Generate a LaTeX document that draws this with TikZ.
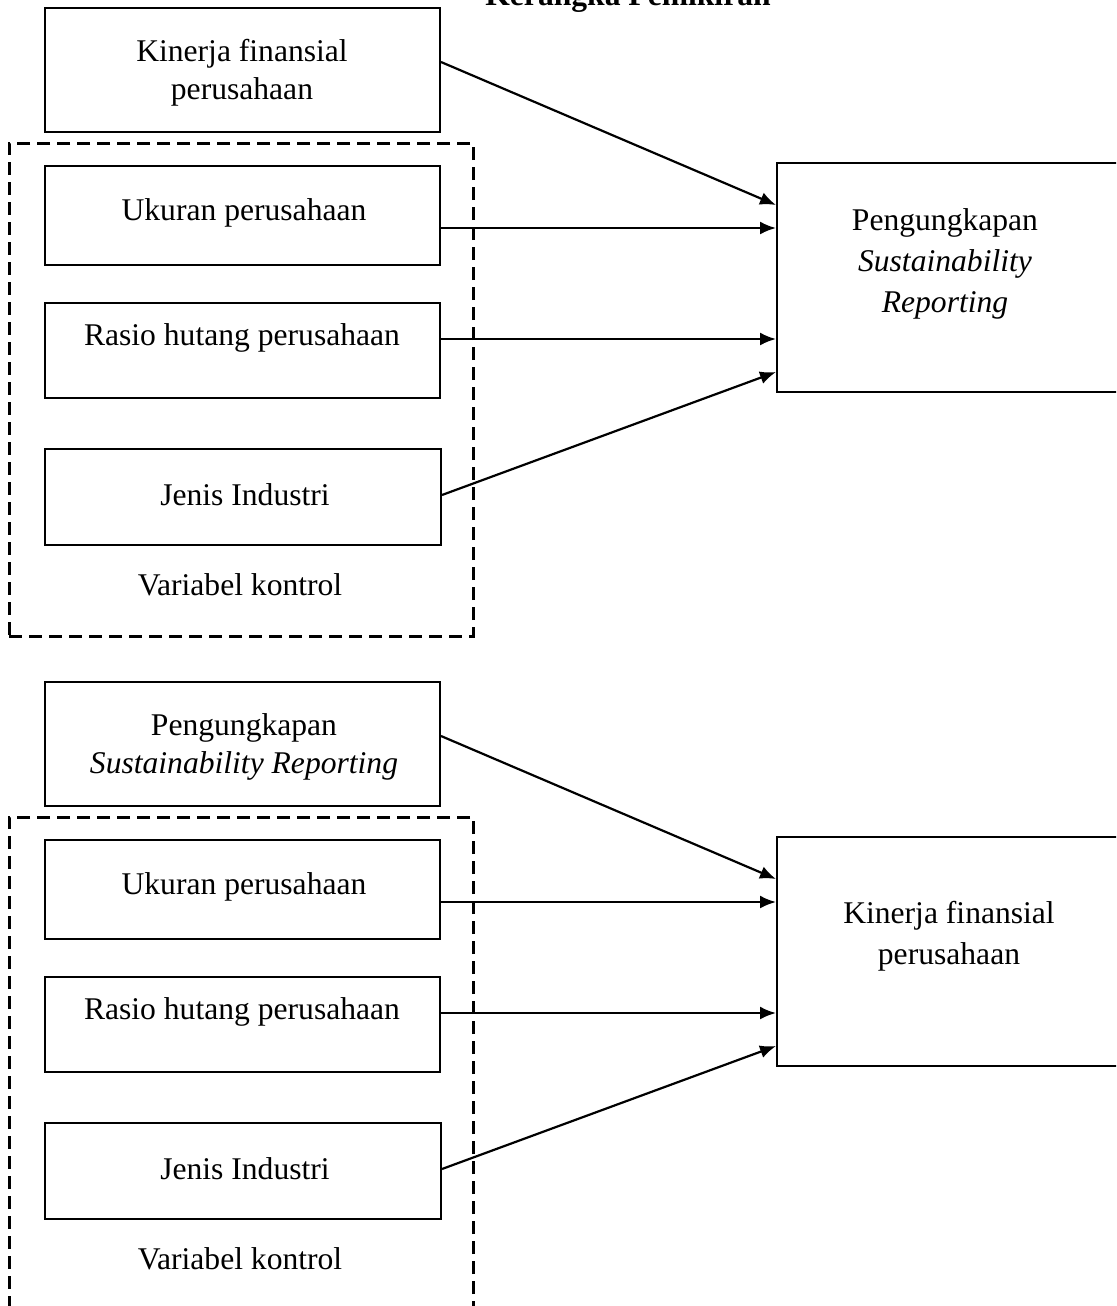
\documentclass[tikz,border=0pt]{standalone}
\usepackage{fontspec}
\setmainfont{Liberation Serif}
\usetikzlibrary{arrows.meta}
\begin{document}
\begin{tikzpicture}[x=0.5pt,y=-0.5pt,
  box/.style={draw, line width=1pt, rectangle, inner sep=0pt},
  txt/.style={inner sep=0pt, align=center, font=\fontsize{15.8}{19}\selectfont},
  txtw/.style={inner sep=0pt, align=center, font=\fontsize{15.8}{20.5}\selectfont},
  grp/.style={draw, line width=1.5pt, dash pattern=on 6.5pt off 3.5pt, rectangle, inner sep=0pt},
  arr/.style={line width=1.1pt, -{Latex[length=8pt,width=6.5pt]}}
]
\useasboundingbox (0,0) rectangle (1116,1306);
\clip (0,0) rectangle (1116,1306);

\node[anchor=base, inner sep=0pt, font=\fontsize{15.8}{19}\selectfont\bfseries] (title) at (628,5) {Kerangka Pemikiran};

% ---------- upper model ----------
\node[grp, minimum width=232pt, minimum height=246.5pt] (g1) at (241,389.5) {};
\node[box, minimum width=197.5pt, minimum height=62pt] (k1) at (242.5,70) {};
\node[txt] (k1t) at (242,73) {Kinerja finansial\\perusahaan};
\node[box, minimum width=197.5pt, minimum height=49.5pt] (u1) at (242.5,215.5) {};
\node[txt] (u1t) at (244,213) {Ukuran perusahaan};
\node[box, minimum width=197.5pt, minimum height=47.5pt] (r1) at (242.5,350.5) {};
\node[txt] (r1t) at (242,338) {Rasio hutang perusahaan};
\node[box, minimum width=198pt, minimum height=48pt] (j1) at (243,497) {};
\node[txt] (j1t) at (245,495) {Jenis Industri};
\node[txt] (v1) at (240,585) {Variabel kontrol};
\node[box, minimum width=180pt, minimum height=114.5pt] (s1) at (957,277.5) {};
\node[txtw] (s1t) at (945,264) {Pengungkapan\\\textit{Sustainability}\\\textit{Reporting}};

\draw[arr] ([yshift=4pt]k1.east) -- ([yshift=36.25pt]s1.west);
\draw[arr] ([yshift=-6.25pt]u1.east) -- ([yshift=24.75pt]s1.west);
\draw[arr] ([yshift=5.75pt]r1.east) -- ([yshift=-30.75pt]s1.west);
\draw[arr] ([yshift=1pt]j1.east) -- ([yshift=-47.25pt]s1.west);

% ---------- lower model ----------
\begin{scope}[yshift=-337pt]
\node[grp, minimum width=232pt, minimum height=246.5pt] (g2) at (241,389.5) {};
\node[box, minimum width=197.5pt, minimum height=62pt] (k2) at (242.5,70) {};
\node[txt] (k2t) at (244,73) {Pengungkapan\\\textit{Sustainability Reporting}};
\node[box, minimum width=197.5pt, minimum height=49.5pt] (u2) at (242.5,215.5) {};
\node[txt] (u2t) at (244,213) {Ukuran perusahaan};
\node[box, minimum width=197.5pt, minimum height=47.5pt] (r2) at (242.5,350.5) {};
\node[txt] (r2t) at (242,338) {Rasio hutang perusahaan};
\node[box, minimum width=198pt, minimum height=48pt] (j2) at (243,497) {};
\node[txt] (j2t) at (245,495) {Jenis Industri};
\node[txt] (v2) at (240,585) {Variabel kontrol};
\node[box, minimum width=180pt, minimum height=114.5pt] (s2) at (957,277.5) {};
\node[txtw] (s2t) at (949,262) {Kinerja finansial\\perusahaan};

\draw[arr] ([yshift=4pt]k2.east) -- ([yshift=36.25pt]s2.west);
\draw[arr] ([yshift=-6.25pt]u2.east) -- ([yshift=24.75pt]s2.west);
\draw[arr] ([yshift=5.75pt]r2.east) -- ([yshift=-30.75pt]s2.west);
\draw[arr] ([yshift=1pt]j2.east) -- ([yshift=-47.25pt]s2.west);
\end{scope}
\end{tikzpicture}
\end{document}
